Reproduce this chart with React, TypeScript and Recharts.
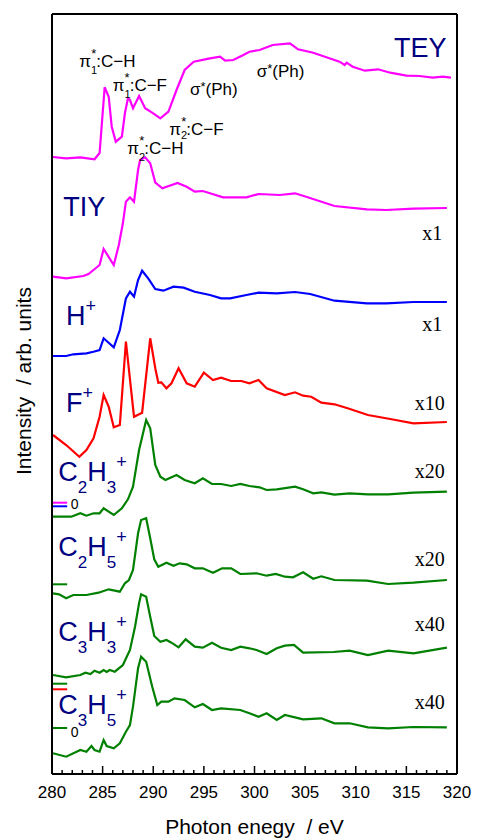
import { LineChart, Line, XAxis, YAxis, ReferenceDot, ReferenceLine } from "recharts"

// photon energy (eV), stacked intensity (arb. units)
const tey: [number, number][] = [
  [280.1, 61.7], [281.4, 61.57], [282.8, 61.67], [284.2, 61.47], [284.7, 62.1], [285.2, 68.67],
  [285.6, 67.73], [285.9, 64.73], [286.3, 63.23], [286.9, 63.73], [287.2, 66.07], [287.5, 67.57],
  [287.7, 67.4], [288.0, 66.57], [288.6, 67.8], [289.2, 66.57], [290.0, 66.07], [290.7, 65.57],
  [291.5, 66.23], [292.3, 68.4], [293.1, 70.4], [294.0, 71.23], [295.6, 71.57], [296.6, 71.73],
  [297.1, 71.33], [297.9, 71.4], [298.9, 71.9], [299.5, 72.23], [300.5, 72.4], [301.8, 72.9],
  [303.5, 73.07], [304.3, 72.47], [305.8, 72.13], [307.1, 71.67], [308.4, 71.23], [308.9, 70.9],
  [309.1, 71.13], [309.7, 70.73], [310.9, 70.33], [312.2, 70.47], [313.4, 70.13], [315.0, 69.83],
  [316.3, 69.8], [317.6, 69.63], [318.6, 69.73], [319.4, 69.63],
]

const tiy: [number, number][] = [
  [280.1, 49.73], [281.4, 49.57], [283.1, 49.8], [283.6, 50.0], [284.1, 50.4], [284.7, 50.9],
  [285.1, 52.5], [286.1, 50.9], [286.6, 52.9], [287.0, 55.07], [287.3, 57.23], [287.7, 57.67],
  [288.1, 57.23], [288.5, 60.4], [288.7, 61.4], [289.2, 61.67], [289.7, 61.07], [290.2, 59.15],
  [290.9, 58.57], [292.4, 59.1], [293.3, 58.73], [294.1, 58.23], [294.9, 58.3], [296.9, 57.67],
  [299.2, 57.67], [300.4, 58.0], [302.5, 57.9], [304.0, 58.07], [305.1, 57.73], [307.9, 56.8],
  [311.1, 56.47], [313.0, 56.4], [315.7, 56.53], [319.0, 56.6],
]

const hPlus: [number, number][] = [
  [280.1, 41.8], [281.4, 41.8], [282.1, 41.97], [283.4, 42.07], [284.1, 42.23], [284.7, 42.4],
  [285.1, 43.57], [286.1, 42.67], [286.7, 44.4], [287.3, 47.57], [287.7, 48.23], [288.1, 47.73],
  [288.5, 49.4], [288.9, 50.33], [289.5, 49.57], [290.2, 48.5], [291.0, 48.33], [292.0, 48.73],
  [293.0, 48.63], [294.1, 48.23], [295.6, 47.9], [296.7, 47.57], [297.6, 47.57], [299.2, 47.9],
  [300.4, 48.13], [302.2, 48.07], [304.0, 48.2], [305.5, 48.0], [307.9, 47.33], [311.1, 47.07],
  [313.0, 47.07], [315.7, 47.2], [319.0, 47.2],
]

const fPlus: [number, number][] = [
  [280.1, 33.9], [281.4, 32.9], [282.7, 31.73], [283.4, 32.4], [284.1, 33.57], [284.7, 35.73],
  [285.1, 37.9], [285.6, 36.73], [286.1, 34.67], [286.7, 34.9], [287.3, 43.23], [288.1, 35.73],
  [288.9, 36.13], [289.7, 43.57], [290.2, 40.57], [290.5, 39.13], [290.8, 39.17], [291.3, 38.57],
  [291.8, 39.07], [292.5, 40.57], [293.3, 39.07], [294.1, 38.73], [295.0, 40.13], [295.9, 39.4],
  [296.7, 39.63], [297.7, 39.3], [298.7, 39.3], [299.5, 39.07], [300.4, 39.4], [301.2, 38.57],
  [303.0, 37.9], [304.0, 38.17], [304.8, 37.83], [305.6, 37.73], [306.6, 37.13], [307.9, 36.97],
  [309.2, 36.57], [311.2, 35.9], [313.4, 35.5], [315.7, 35.07], [319.0, 35.2],
]

const c2h3: [number, number][] = [
  [280.1, 25.73], [281.9, 25.73], [282.8, 26.07], [283.4, 25.83], [284.1, 26.07], [284.7, 26.07],
  [285.1, 26.57], [286.1, 25.9], [286.9, 26.57], [287.5, 27.47], [288.0, 28.73], [288.6, 32.4],
  [289.3, 35.4], [289.7, 34.57], [290.2, 30.9], [290.7, 29.73], [291.2, 29.4], [292.3, 29.9],
  [293.1, 29.4], [294.1, 29.07], [294.9, 29.57], [295.8, 29.0], [296.7, 29.0], [297.7, 28.8],
  [298.6, 29.0], [299.5, 28.8], [300.5, 28.67], [301.2, 28.4], [302.2, 28.47], [304.0, 28.73],
  [304.8, 28.47], [305.8, 28.07], [306.6, 28.17], [307.9, 27.93], [309.4, 28.07], [311.2, 27.97],
  [313.2, 27.97], [315.7, 28.13], [319.0, 28.23],
]

const c2h5: [number, number][] = [
  [280.1, 18.07], [280.7, 17.97], [281.4, 17.57], [282.1, 17.9], [283.4, 17.9], [284.6, 18.13],
  [285.6, 18.47], [286.7, 18.23], [287.2, 19.07], [287.6, 19.4], [288.0, 20.4], [288.5, 24.07],
  [288.8, 25.4], [289.3, 25.57], [289.7, 23.57], [290.1, 21.47], [290.5, 20.73], [291.3, 21.13],
  [292.0, 20.83], [292.6, 21.07], [293.3, 20.97], [294.1, 20.57], [294.9, 20.57], [295.9, 20.13],
  [296.8, 20.57], [297.7, 20.57], [298.6, 20.0], [300.2, 20.07], [301.2, 19.83], [302.1, 20.0],
  [303.0, 19.73], [303.8, 19.67], [304.8, 20.17], [305.8, 19.53], [306.6, 19.77], [307.9, 19.4],
  [311.1, 19.33], [313.2, 19.0], [315.7, 19.13], [319.0, 19.4],
]

const c3h3: [number, number][] = [
  [280.1, 9.9], [281.4, 9.67], [282.8, 9.9], [283.3, 10.13], [283.8, 10.0], [284.2, 10.33],
  [284.7, 10.13], [285.1, 10.4], [285.4, 10.2], [285.7, 10.4], [286.2, 10.23], [287.0, 10.9],
  [287.7, 12.4], [288.2, 14.73], [288.6, 17.07], [288.8, 17.97], [289.3, 17.73], [289.7, 15.73],
  [290.1, 13.8], [290.7, 13.23], [291.3, 13.4], [291.8, 13.13], [292.5, 12.67], [293.2, 13.47],
  [294.1, 12.73], [294.9, 12.63], [295.8, 13.13], [296.7, 12.63], [297.7, 12.4], [298.6, 12.73],
  [299.5, 12.57], [300.2, 12.4], [301.2, 12.0], [302.2, 12.57], [303.0, 12.83], [303.9, 12.9],
  [304.8, 12.13], [307.8, 12.2], [309.4, 12.33], [311.2, 11.9], [313.2, 12.33], [315.7, 12.07],
  [319.0, 12.63],
]

const c3h5: [number, number][] = [
  [280.1, 2.07], [281.4, 1.73], [282.8, 2.4], [283.4, 2.23], [283.9, 2.8], [284.2, 2.4],
  [284.7, 2.23], [285.1, 3.4], [285.4, 2.8], [286.1, 2.57], [286.7, 3.07], [287.3, 4.23],
  [287.7, 4.9], [288.0, 6.73], [288.5, 10.57], [288.8, 11.73], [289.3, 11.23], [289.9, 8.73],
  [290.4, 6.9], [290.8, 7.23], [291.5, 7.23], [292.1, 7.57], [293.1, 7.4], [294.1, 6.67],
  [294.9, 7.0], [295.8, 6.4], [296.7, 6.57], [298.6, 6.4], [299.5, 6.07], [300.4, 5.73],
  [301.2, 6.07], [302.2, 5.4], [303.0, 5.9], [304.8, 5.47], [306.6, 5.57], [307.9, 5.07],
  [309.4, 5.07], [311.2, 4.67], [313.2, 4.57], [315.7, 4.7], [319.0, 4.67],
]

// zero levels marked on the left axis
const zeroMarks = [
  { y: 27.13, color: "#ff00ff" },
  { y: 26.77, color: "#0000ff" },
  { y: 18.97, color: "#008000" },
  { y: 9.03, color: "#008000" },
  { y: 8.47, color: "#ff0000" },
  { y: 4.6, color: "#008000" },
]
const zeroTexts = [
  { x: 281.85, y: 26.5 },
  { x: 281.85, y: 3.7 },
]

// spectrum names (digits -> subscript, + -> superscript)
const seriesLabels = [
  { x: 313.78, y: 71.7, text: "TEY" },
  { x: 281.12, y: 55.83, text: "TIY" },
  { x: 281.38, y: 44.9, text: "H+" },
  { x: 281.38, y: 36.23, text: "F+" },
  { x: 280.62, y: 29.3, text: "C2H3+" },
  { x: 280.62, y: 21.8, text: "C2H5+" },
  { x: 280.62, y: 13.3, text: "C3H3+" },
  { x: 280.62, y: 6.0, text: "C3H5+" },
]

const scaleLabels = [
  { x: 318.55, y: 53.4, text: "x1" },
  { x: 318.55, y: 44.3, text: "x1" },
  { x: 318.8, y: 36.4, text: "x10" },
  { x: 318.8, y: 29.6, text: "x20" },
  { x: 318.8, y: 20.8, text: "x20" },
  { x: 318.8, y: 14.3, text: "x40" },
  { x: 318.8, y: 6.5, text: "x40" },
]

const peakLabels = [
  { x: 282.7, y: 70.7, sym: "π", sub: "1", rest: ":C−H", subDy: 7 },
  { x: 286.0, y: 68.3, sym: "π", sub: "1", rest: ":C−F", subDy: 7 },
  { x: 293.63, y: 67.9, sym: "σ", sub: "", rest: "(Ph)", subDy: 0 },
  { x: 300.22, y: 69.7, sym: "σ", sub: "", rest: "(Ph)", subDy: 0 },
  { x: 291.59, y: 63.9, sym: "π", sub: "2", rest: ":C−F", subDy: 4 },
  { x: 287.44, y: 62.0, sym: "π", sub: "2", rest: ":C−H", subDy: 7 },
]

const xTicks = Array.from({ length: 41 }, (_, i) => 280 + i)
const yTicks = [2, 9.9, 17.8, 25.8, 33.8, 41.7, 49.7, 57.7, 65.6]

const SANS = "'Liberation Sans', Arial, Helvetica, sans-serif"
const SERIF = "'Liberation Serif', 'Times New Roman', serif"
const NAVY = "#000080"

const toPoints = (pts: [number, number][]) => pts.map(([x, y]) => ({ x, y }))

const series = [
  { name: "TEY", color: "#ff00ff", data: toPoints(tey) },
  { name: "TIY", color: "#ff00ff", data: toPoints(tiy) },
  { name: "H+", color: "#0000ff", data: toPoints(hPlus) },
  { name: "F+", color: "#ff0000", data: toPoints(fPlus) },
  { name: "C2H3+", color: "#008000", data: toPoints(c2h3) },
  { name: "C2H5+", color: "#008000", data: toPoints(c2h5) },
  { name: "C3H3+", color: "#008000", data: toPoints(c3h3) },
  { name: "C3H5+", color: "#008000", data: toPoints(c3h5) },
]

const Formula = ({ cx, cy, text }: { cx: number; cy: number; text: string }) => {
  let shift = 0
  const parts = text.split("").map((c, i) => {
    let target = 0
    let size = 27
    if (/[0-9]/.test(c)) {
      target = 12
      size = 17
    } else if (c === "+") {
      target = -13
      size = 18
    }
    const dy = target - shift
    shift = target
    return (
      <tspan key={i} dy={dy} fontSize={size}>
        {c}
      </tspan>
    )
  })
  return (
    <text x={cx} y={cy} fill={NAVY} fontFamily={SANS} fontSize={27}>
      {parts}
    </text>
  )
}

const PeakText = ({ cx, cy, sym, sub, rest, subDy }: any) => (
  <text x={cx} y={cy} fill="#000" fontFamily={SANS} fontSize={17}>
    <tspan>{sym}</tspan>
    {sub ? (
      <>
        <tspan fontSize={11} dy={subDy}>{sub}</tspan>
        <tspan fontSize={13} dx={-6} dy={-9 - subDy}>*</tspan>
        <tspan dy={9}>{rest}</tspan>
      </>
    ) : (
      <>
        <tspan fontSize={13} dy={-4}>*</tspan>
        <tspan dy={4}>{rest}</tspan>
      </>
    )}
  </text>
)

const BottomTick = (p: any) => {
  const v = p.payload.value
  const major = v % 5 === 0
  return (
    <g>
      <line x1={p.x} x2={p.x} y1={p.y} y2={p.y - (major ? 8 : 4)} stroke="#000" strokeWidth={1.5} />
      {major && (
        <text x={p.x} y={p.y + 24} textAnchor="middle" fontSize={17} fontFamily={SANS} fill="#000">
          {v}
        </text>
      )}
    </g>
  )
}

const TopTick = (p: any) => {
  const major = p.payload.value % 5 === 0
  return <line x1={p.x} x2={p.x} y1={p.y} y2={p.y + (major ? 8 : 4)} stroke="#000" strokeWidth={1.5} />
}

const RightTick = (p: any) => <line x1={p.x} x2={p.x - 4} y1={p.y} y2={p.y} stroke="#000" strokeWidth={1.5} />

const XLabel = (p: any) => {
  const vb = p.viewBox ?? { x: 52, y: 774, width: 405, height: 64 }
  return (
    <text
      x={vb.x + vb.width / 2}
      y={vb.y + 60}
      textAnchor="middle"
      fontSize={21}
      fontFamily={SANS}
      fill="#000"
      style={{ whiteSpace: "pre" }}
    >
      {"Photon enegy  / eV"}
    </text>
  )
}

const YLabel = (p: any) => {
  const vb = p.viewBox ?? { x: 0, y: 14, width: 52, height: 760 }
  const x = vb.x + 31
  const y = vb.y + 461
  return (
    <text
      x={x}
      y={y}
      transform={`rotate(-90, ${x}, ${y})`}
      fontSize={21}
      fontFamily={SANS}
      fill="#000"
      style={{ whiteSpace: "pre" }}
    >
      {"Intensity  / arb. units"}
    </text>
  )
}

export default function App() {
  return (
    <div style={{ position: "absolute", left: 0, top: 0, width: 477, height: 838, background: "#fff" }}>
      <LineChart width={477} height={838} margin={{ top: 0, right: 0, bottom: 0, left: 0 }}>
        <XAxis
          xAxisId="b"
          dataKey="x"
          type="number"
          domain={[280, 320]}
          ticks={xTicks}
          interval={0}
          height={64}
          tickSize={0}
          tickMargin={0}
          tickLine={false}
          tick={BottomTick}
          axisLine={{ stroke: "#000", strokeWidth: 2 }}
          label={XLabel}
        />
        <XAxis
          xAxisId="t"
          orientation="top"
          type="number"
          domain={[280, 320]}
          ticks={xTicks}
          interval={0}
          height={14}
          tickSize={0}
          tickMargin={0}
          tickLine={false}
          tick={TopTick}
          axisLine={{ stroke: "#000", strokeWidth: 2 }}
        />
        <YAxis
          yAxisId="l"
          type="number"
          domain={[0, 76]}
          width={52}
          tick={false}
          tickLine={false}
          axisLine={{ stroke: "#000", strokeWidth: 2 }}
          label={YLabel}
        />
        <YAxis
          yAxisId="r"
          orientation="right"
          type="number"
          domain={[0, 76]}
          ticks={yTicks}
          interval={0}
          width={20}
          tickSize={0}
          tickMargin={0}
          tickLine={false}
          tick={RightTick}
          axisLine={{ stroke: "#000", strokeWidth: 2 }}
        />
        {series.map((s) => (
          <Line
            key={s.name}
            xAxisId="b"
            yAxisId="l"
            data={s.data}
            dataKey="y"
            type="linear"
            stroke={s.color}
            strokeWidth={2.2}
            dot={false}
            isAnimationActive={false}
          />
        ))}
        {zeroMarks.map((z, i) => (
          <ReferenceLine
            key={`z${i}`}
            xAxisId="b"
            yAxisId="l"
            segment={[
              { x: 280, y: z.y },
              { x: 281.5, y: z.y },
            ]}
            stroke={z.color}
            strokeWidth={2}
          />
        ))}
        {zeroTexts.map((z, i) => (
          <ReferenceDot
            key={`zt${i}`}
            xAxisId="b"
            yAxisId="l"
            x={z.x}
            y={z.y}
            r={0}
            ifOverflow="visible"
            shape={(p: any) => (
              <text x={p.cx} y={p.cy} fontSize={14} fontFamily={SANS} fill="#000">
                0
              </text>
            )}
          />
        ))}
        {seriesLabels.map((l) => (
          <ReferenceDot
            key={`s${l.text}${l.y}`}
            xAxisId="b"
            yAxisId="l"
            x={l.x}
            y={l.y}
            r={0}
            ifOverflow="visible"
            shape={(p: any) => <Formula cx={p.cx} cy={p.cy} text={l.text} />}
          />
        ))}
        {scaleLabels.map((l, i) => (
          <ReferenceDot
            key={`k${i}`}
            xAxisId="b"
            yAxisId="l"
            x={l.x}
            y={l.y}
            r={0}
            ifOverflow="visible"
            shape={(p: any) => (
              <text x={p.cx} y={p.cy} textAnchor="end" fontSize={20} fontFamily={SERIF} fill="#000">
                {l.text}
              </text>
            )}
          />
        ))}
        {peakLabels.map((l, i) => (
          <ReferenceDot
            key={`p${i}`}
            xAxisId="b"
            yAxisId="l"
            x={l.x}
            y={l.y}
            r={0}
            ifOverflow="visible"
            shape={(p: any) => (
              <PeakText cx={p.cx} cy={p.cy} sym={l.sym} sub={l.sub} rest={l.rest} subDy={l.subDy} />
            )}
          />
        ))}
      </LineChart>
    </div>
  )
}
